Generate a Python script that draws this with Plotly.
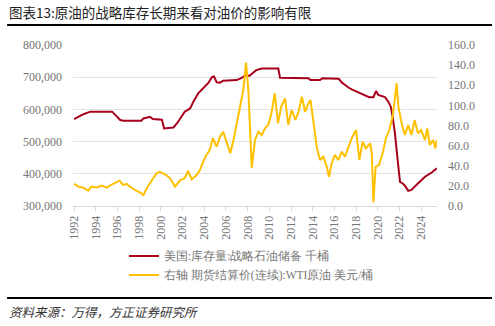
import plotly.graph_objects as go

# SPR inventory (thousand barrels), x in fractional years as positioned on chart
spr_x = [1992.0, 1992.4, 1992.86, 1993.5, 1995.5, 1995.8, 1996.25, 1996.55, 1998.2, 1998.4, 1999.0, 1999.25,
         2000.1, 2000.3, 2001.15, 2001.5, 2001.9, 2002.2, 2002.7, 2003.0, 2003.45, 2003.9, 2004.4, 2004.7,
         2004.9, 2005.15, 2005.45, 2005.75, 2007.0, 2007.45, 2007.85, 2008.15, 2008.5, 2008.8, 2009.3,
         2010.83, 2010.99, 2013.6, 2013.8, 2014.67, 2014.9, 2016.4, 2016.7, 2017.0, 2017.3, 2017.6, 2018.05,
         2018.66, 2019.2, 2019.6, 2019.83, 2020.05, 2020.36, 2020.66, 2020.97, 2021.2, 2021.37, 2021.58,
         2021.8, 2022.05, 2022.3, 2022.5, 2022.8, 2023.1, 2023.7, 2024.35, 2024.97, 2025.45]
spr_v = [570, 577, 585, 593, 593, 583, 567, 565, 565, 572, 577, 570,
         568, 541, 544, 557, 577, 593, 603, 624, 650, 667, 683, 700,
         702, 684, 683, 689, 691, 698, 707, 704, 714, 722, 727,
         727, 698, 697, 691, 691, 697, 695, 683, 674, 668, 662, 655,
         648, 638, 638, 657, 645, 642, 638, 624, 608, 577, 526,
         453, 375, 370, 363, 347, 350, 370, 391, 404, 417]
spr_v = [v * 1000 for v in spr_v]

# WTI continuous settlement price (USD/bbl)
wti_x = [1992.0, 1992.4, 1992.86, 1993.3, 1993.6, 1994.1, 1994.55, 1995.0, 1995.5, 1995.9, 1996.2, 1996.5,
         1996.85, 1997.16, 1997.6, 1998.1, 1998.4, 1998.7, 1999.16, 1999.6, 1999.9, 2000.2, 2000.5, 2000.85,
         2001.3, 2001.8, 2002.2, 2002.5, 2002.85, 2003.3, 2003.6, 2003.9, 2004.2, 2004.5, 2004.8, 2005.15,
         2005.45, 2005.75, 2006.07, 2006.4, 2006.7, 2007.0, 2007.3, 2007.6, 2007.85, 2008.07, 2008.38,
         2008.68, 2008.99, 2009.3, 2009.6, 2009.9, 2010.2, 2010.5, 2010.8, 2011.1, 2011.45, 2011.75, 2012.06,
         2012.4, 2012.7, 2013.0, 2013.3, 2013.6, 2013.8, 2014.06, 2014.37, 2014.67, 2014.98, 2015.3, 2015.5,
         2015.75, 2016.05, 2016.36, 2016.67, 2016.98, 2017.3, 2017.6, 2018.0, 2018.3, 2018.6, 2018.9, 2019.3,
         2019.45, 2019.6, 2019.8, 2020.1, 2020.45, 2020.75, 2021.06, 2021.37, 2021.58, 2021.74, 2021.9,
         2022.2, 2022.5, 2022.8, 2023.1, 2023.4, 2023.7, 2024.0, 2024.35, 2024.56, 2024.8, 2025.1, 2025.3,
         2025.45]
wti_v = [21.9, 19.2, 18.2, 15.2, 19.2, 18.5, 20.2, 18.2, 21.5, 23.2, 25.2, 20.9,
         21.9, 19.2, 15.9, 13.2, 10.9, 17.6, 25.8, 32.5, 34.0, 32.5, 30.8, 27.5,
         19.2, 25.8, 27.5, 34.8, 26.5, 30.8, 35.8, 44.0, 50.7, 55.6, 67.3, 58.9,
         68.9, 73.8, 62.3, 52.4, 65.6, 82.2, 98.7, 115.3, 142.4, 115.0, 38.0,
         65.6, 73.8, 70.6, 77.2, 80.5, 92.1, 112.0, 82.2, 98.7, 107.0, 80.5, 95.4,
         85.5, 93.7, 108.6, 93.7, 102.0, 105.3, 85.5, 58.9, 45.7, 49.0, 39.0, 29.1,
         42.4, 50.7, 45.7, 54.0, 49.0, 58.9, 67.3, 75.5, 45.7, 63.9, 57.3, 62.3,
         52.4, 3.7, 39.0, 40.7, 52.4, 67.3, 75.5, 88.7, 107.0, 122.0, 98.7,
         82.2, 70.6, 80.5, 70.6, 85.5, 72.2, 75.5, 65.6, 77.2, 60.6, 65.6, 57.3,
         65.6]

year_ticks = list(range(1992, 2025, 2))
left_ticks = [300000, 400000, 500000, 600000, 700000, 800000]
right_ticks = [0, 20, 40, 60, 80, 100, 120, 140, 160]

RED = "#A8001C"
GOLD = "#FFC000"
TXT = "#767676"
SERIF = "Liberation Serif"
TICKFONT = dict(family=SERIF, size=12, color=TXT)

fig = go.Figure()
fig.add_trace(go.Scatter(x=spr_x, y=spr_v, mode="lines", name="美国:库存量:战略石油储备 千桶",
                         line=dict(color=RED, width=2), yaxis="y"))
fig.add_trace(go.Scatter(x=wti_x, y=wti_v, mode="lines", name="右轴 期货结算价(连续):WTI原油 美元/桶",
                         line=dict(color=GOLD, width=2), yaxis="y2"))

fig.update_layout(
    width=495, height=326,
    margin=dict(l=73, r=58, t=45, b=120),
    paper_bgcolor="white", plot_bgcolor="white",
    font=dict(family=SERIF, size=12, color=TXT),
    showlegend=True,
    legend=dict(orientation="v", x=0.14, y=-0.22, xanchor="left", yanchor="top",
                font=dict(size=11.5, color=TXT, family=SERIF), bgcolor="rgba(0,0,0,0)",
                tracegroupgap=2),
    xaxis=dict(range=[1991.9, 2025.46], tickvals=year_ticks, ticktext=[str(y) for y in year_ticks],
               tickangle=-90, showgrid=False, zeroline=False, showline=True, linecolor="#d9d9d9",
               ticks="outside", ticklen=4, tickcolor="#d9d9d9", tickfont=TICKFONT),
    yaxis=dict(range=[300000, 800000], tickvals=left_ticks,
               ticktext=[f"{v:,}" for v in left_ticks], showgrid=True, gridcolor="#e3e3e3",
               zeroline=False, ticks="", ticklabelstandoff=10, tickfont=TICKFONT),
    yaxis2=dict(range=[0, 160], tickvals=right_ticks, ticktext=[f"{v:.1f}" for v in right_ticks],
                overlaying="y", side="right", showgrid=False, zeroline=False, ticks="",
                ticklabelstandoff=10, tickfont=TICKFONT),
)

fig.add_annotation(text="图表13:原油的战略库存长期来看对油价的影响有限", xref="paper", yref="paper",
                   x=-0.181, y=1.13, xanchor="left", yanchor="bottom", showarrow=False,
                   font=dict(family="Noto Sans CJK SC", size=13.5, color="#222222"))
fig.add_annotation(text="<i>资料来源：万得，方正证券研究所</i>", xref="paper", yref="paper",
                   x=-0.181, y=-0.585, xanchor="left", yanchor="top", showarrow=False,
                   font=dict(family="Noto Sans CJK SC", size=12.5, color="#333333"))
fig.add_shape(type="line", xref="paper", yref="paper", x0=-0.181, x1=1.151, y0=1.124, y1=1.124,
              line=dict(color="black", width=2))
fig.add_shape(type="line", xref="paper", yref="paper", x0=-0.181, x1=1.151, y0=-0.571, y1=-0.571,
              line=dict(color="black", width=2))

fig.write_html("out.html")
